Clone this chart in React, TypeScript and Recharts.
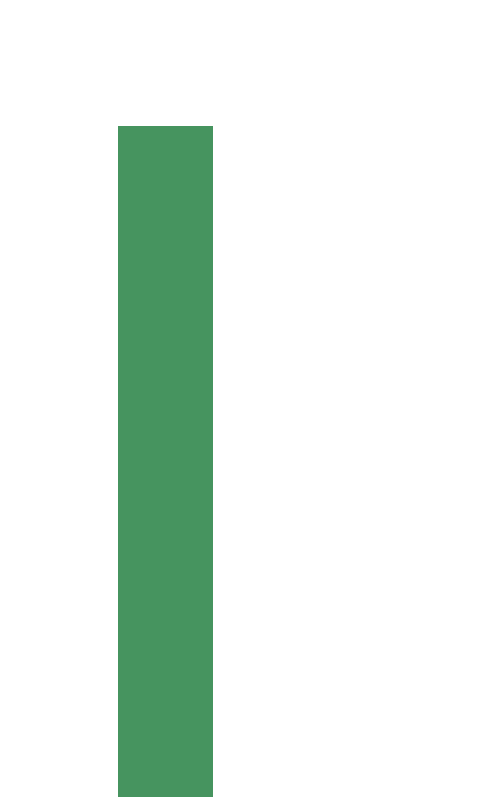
import React from "react";
import { BarChart, Bar, XAxis, YAxis } from "recharts";

// single category, single value
const categories = ["A"];
const values = [84.2];

const data = categories.map((name, i) => ({ name, value: values[i] }));

const App = () => {
  return (
    <div style={{ position: "absolute", top: 0, left: 0, width: 485, height: 800, background: "#fff" }}>
      <BarChart
        width={485}
        height={800}
        data={data}
        margin={{ top: 0, right: 272, bottom: 3, left: 118 }}
        barCategoryGap={0}
      >
        <XAxis dataKey="name" hide />
        <YAxis domain={[0, 100]} hide />
        <Bar dataKey="value" fill="#46945f" isAnimationActive={false} />
      </BarChart>
    </div>
  );
};

export default App;
